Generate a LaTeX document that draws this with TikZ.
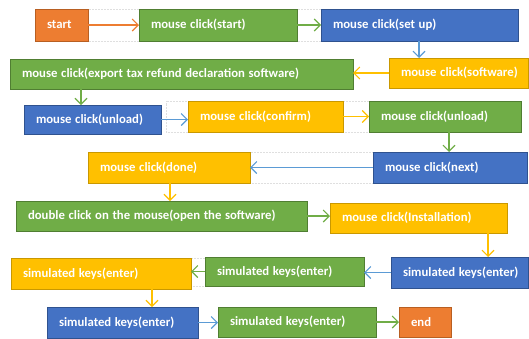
\documentclass[tikz,border=0pt]{standalone}
\usepackage{fontspec}
\setmainfont{Carlito}[WordSpace={1.25}]
\usetikzlibrary{arrows.meta,backgrounds}
\definecolor{cOr}{HTML}{ED7D31}
\definecolor{cOrD}{HTML}{B85F22}
\definecolor{cGr}{HTML}{70AD47}
\definecolor{cGrD}{HTML}{507E32}
\definecolor{cBl}{HTML}{4472C4}
\definecolor{cBlD}{HTML}{2F528F}
\definecolor{cYe}{HTML}{FFC000}
\definecolor{cYeD}{HTML}{C99800}
\definecolor{cArB}{HTML}{5B9BD5}
\tikzset{
  box/.style={draw, line width=0.8bp, text=white,
    font=\bfseries\fontsize{12.8}{14}\selectfont,
    inner xsep=12bp, inner ysep=0bp, outer sep=0pt, anchor=north west},
  orbox/.style={box, fill=cOr, draw=cOrD},
  grbox/.style={box, fill=cGr, draw=cGrD},
  blbox/.style={box, fill=cBl, draw=cBlD},
  yebox/.style={box, fill=cYe, draw=cYeD},
  arr/.style={line width=1.1bp, -{Straight Barb[length=6bp,width=12bp]}},
  arOr/.style={arr, draw=cOr},
  arGr/.style={arr, draw=cGr},
  arBl/.style={arr, draw=cArB},
  arYe/.style={arr, draw=cYe},
  grp/.style={draw=gray!25, densely dotted, line width=0.5bp}
}
\newcommand{\mybox}[7]{%
  \pgfmathsetmacro\tw{#5-24}%
  \node[#2, minimum height=#6bp] (#1) at (#3,#4) {\makebox[\tw bp][l]{#7}};}
\begin{document}
\begin{tikzpicture}[x=1bp, y=-1bp]
\useasboundingbox (0,0) rectangle (529,338);
% boxes
\mybox{start}{orbox}{35}{9}{53}{32}{start}
\mybox{ms}{grbox}{139}{9}{158}{32}{mouse click(start)}
\mybox{setup}{blbox}{321}{9}{197}{32}{mouse click(set up)}
\mybox{export}{grbox}{10}{59}{343}{30}{mouse click(export tax refund declaration software)}
\mybox{software}{yebox}{389}{58}{139}{30}{mouse click(software)}
\mybox{unload}{blbox}{24}{105}{137}{29}{mouse click(unload)}
\mybox{confirm}{yebox}{188}{101}{155}{31}{mouse click(confirm)}
\mybox{unloadb}{grbox}{369}{101}{152}{31}{mouse click(unload)}
\mybox{next}{blbox}{373}{152}{154}{31}{mouse click(next)}
\mybox{done}{yebox}{88}{152}{162}{31}{mouse click(done)}
\mybox{dbl}{grbox}{16}{201}{291}{30}{double click on the mouse(open the software)}
\mybox{install}{yebox}{330}{203}{177}{30}{mouse click(Installation)}
\mybox{simA}{blbox}{391}{257}{137}{31}{simulated keys(enter)}
\mybox{simB}{grbox}{205}{257}{159}{29}{simulated keys(enter)}
\mybox{simC}{yebox}{11}{258}{180}{31}{simulated keys(enter)}
\mybox{simD}{blbox}{47}{307}{151}{31}{simulated keys(enter)}
\mybox{simE}{grbox}{218}{307}{158}{30}{simulated keys(enter)}
\mybox{end}{orbox}{399}{307}{52}{30}{end}
% faint group frames
\begin{scope}[on background layer]
\draw[grp] (start.north east) rectangle (ms.south west);
\draw[grp] (ms.north east) rectangle (setup.south west);
\draw[grp] (166,101) rectangle (confirm.south west);
\draw[grp] (confirm.north east) rectangle (unloadb.south west);
\draw[grp] (done.north east) rectangle (next.south west);
\draw[grp] (simC.north east) rectangle (simB.south west);
\end{scope}
% connectors
\draw[arOr] (start.east) -- (ms.west);
\draw[arGr] (ms.east) -- (setup.west);
\draw[arBl] (419,0 |- setup.south) -- (419,0 |- software.north);
\draw[arYe] (software.west) -- (software.west -| export.east);
\draw[arGr] (81,0 |- export.south) -- (81,0 |- unload.north);
\draw[arBl] (unload.east) -- (unload.east -| confirm.west);
\draw[arYe] (confirm.east) -- (confirm.east -| unloadb.west);
\draw[arGr] (449,0 |- unloadb.south) -- (449,0 |- next.north);
\draw[arBl] (next.west) -- (next.west -| done.east);
\draw[arYe] (170,0 |- done.south) -- (170,0 |- dbl.north);
\draw[arGr] (dbl.east) -- (dbl.east -| install.west);
\draw[arYe] (488,0 |- install.south) -- (488,0 |- simA.north);
\draw[arBl] (simA.west) -- (simA.west -| simB.east);
\draw[arGr] (simB.west) -- (simB.west -| simC.east);
\draw[arYe] (152,0 |- simC.south) -- (152,0 |- simD.north);
\draw[arBl] (simD.east) -- (simD.east -| simE.west);
\draw[arGr] (simE.east) -- (end.west);
\end{tikzpicture}
\end{document}
